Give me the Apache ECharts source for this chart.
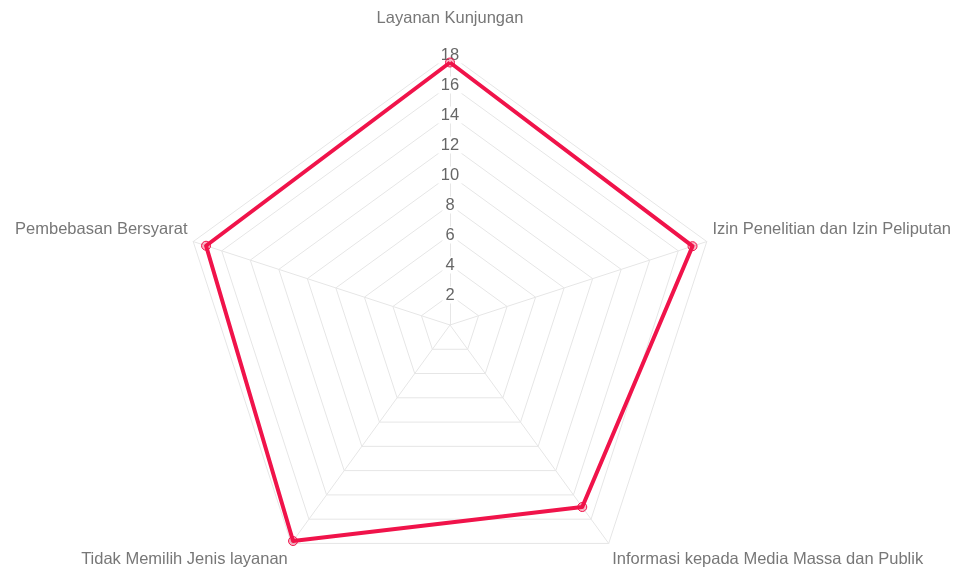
<!DOCTYPE html>
<html>
<head>
<meta charset="utf-8">
<script src="https://cdn.jsdelivr.net/npm/echarts@6/dist/echarts.min.js"></script>
<style>
  html, body { margin: 0; padding: 0; background: #fff; }
  #main { width: 954px; height: 568px; }
</style>
</head>
<body>
<div id="main"></div>
<script>
// kategori searah jarum jam, mulai dari atas
const categories = [
  "Layanan Kunjungan",
  "Izin Penelitian dan Izin Peliputan",
  "Informasi kepada Media Massa dan Publik",
  "Tidak Memilih Jenis layanan",
  "Pembebasan Bersyarat",
];
const values = [17.5, 17, 15, 17.8, 17.1];
const maxValue = 18;
const tickStep = 2;

// echarts menggambar radar berlawanan arah jarum jam, jadi urutannya dibalik
const order = [0, 4, 3, 2, 1];
const lineColor = "#f0134a";

// geser label supaya mirip posisi aslinya
const nameStyle = ["top", "side", "bottom", "bottom", "side"];

const chart = echarts.init(document.getElementById("main"));
chart.setOption({
  animation: false,
  radar: {
    center: [450, 325],
    radius: 270,
    startAngle: 90,
    shape: "polygon",
    splitNumber: maxValue / tickStep,
    nameGap: 6,
    axisName: {
      color: "#777",
      fontSize: 16.5,
      fontFamily: "Liberation Sans, Arial, sans-serif",
      formatter: (name) => {
        const i = categories.indexOf(name);
        return "{" + nameStyle[i] + "|" + name + "}";
      },
      rich: {
        top: { color: "#777", fontSize: 16.5, padding: [0, 0, 22, 0] },
        side: { color: "#777", fontSize: 16.5, padding: [0, 0, 20, 0] },
        bottom: { color: "#777", fontSize: 16.5, padding: [22, 0, 0, 0] },
      },
    },
    splitLine: { lineStyle: { color: "#e6e6e6", width: 1 } },
    splitArea: { show: false },
    axisLine: { lineStyle: { color: "#e6e6e6", width: 1 } },
    axisTick: { show: false },
    axisLabel: { show: false },
    indicator: order.map((i, k) => {
      const ind = { name: categories[i], min: 0, max: maxValue };
      if (k === 0) {
        ind.axisLabel = {
          show: true,
          margin: 0,
          align: "center",
          verticalAlign: "middle",
          color: "#666",
          fontSize: 16.5,
          fontFamily: "Liberation Sans, Arial, sans-serif",
          backgroundColor: "#fff",
          padding: [0, 3],
          formatter: (v) => (v === 0 ? "" : v),
        };
      }
      return ind;
    }),
  },
  series: [
    {
      type: "radar",
      symbol: "circle",
      symbolSize: 9,
      lineStyle: { color: lineColor, width: 4 },
      itemStyle: {
        color: "rgba(240,19,74,0.3)",
        borderColor: lineColor,
        borderWidth: 1,
      },
      data: [{ value: order.map((i) => values[i]) }],
    },
  ],
});
</script>
</body>
</html>
